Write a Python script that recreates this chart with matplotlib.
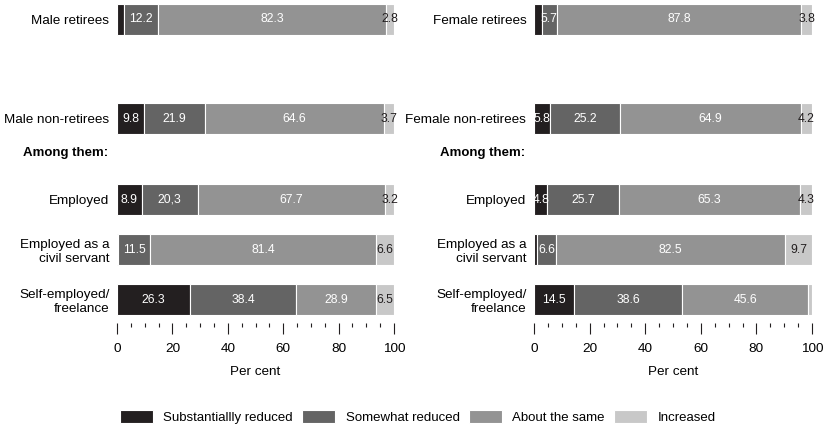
import matplotlib.pyplot as plt
from matplotlib.ticker import MultipleLocator

plt.rcParams['font.family'] = ['Liberation Sans', 'DejaVu Sans']

# rows, top to bottom
male_rows = ["Male retirees", "Male non-retirees", "Employed",
             "Employed as a\ncivil servant", "Self-employed/\nfreelance"]
female_rows = ["Female retirees", "Female non-retirees", "Employed",
               "Employed as a\ncivil servant", "Self-employed/\nfreelance"]

series = ["Substantiallly reduced", "Somewhat reduced", "About the same", "Increased"]

male_subst = [2.7, 9.8, 8.9, 0.5, 26.3]
male_somewhat = [12.2, 21.9, 20.3, 11.5, 38.4]
male_same = [82.3, 64.6, 67.7, 81.4, 28.9]
male_incr = [2.8, 3.7, 3.2, 6.6, 6.5]

female_subst = [2.7, 5.8, 4.8, 1.2, 14.5]
female_somewhat = [5.7, 25.2, 25.7, 6.6, 38.6]
female_same = [87.8, 64.9, 65.3, 82.5, 45.6]
female_incr = [3.8, 4.2, 4.3, 9.7, 1.3]

# the source prints one value with a decimal comma
male_somewhat_text = ["12.2", "21.9", "20,3", "11.5", "38.4"]

colors = ["#231f20", "#646464", "#939393", "#c8c8c8"]
text_colors = ["white", "white", "white", "#231f20"]

ypos = [5.61, 3.62, 2, 1, 0]

fig = plt.figure(figsize=(8.27, 4.30), dpi=100)
ax1 = fig.add_axes([0.1415, 0.2488, 0.3349, 0.7465])
ax2 = fig.add_axes([0.6457, 0.2488, 0.3362, 0.7465])


def draw(ax, rows, data, texts):
    left = [0.0] * len(rows)
    for k, vals in enumerate(data):
        ax.barh(ypos, vals, left=left, height=0.62, color=colors[k],
                edgecolor="white", linewidth=0.8, label=series[k])
        for i, v in enumerate(vals):
            if v >= 2.8:
                t = texts[k][i] if texts[k] else f"{v:.1f}"
                ax.text(left[i] + v / 2, ypos[i], t, ha="center", va="center",
                        color=text_colors[k], fontsize=8.7)
            left[i] += v
    ax.set_xlim(0, 100)
    ax.set_ylim(-0.47, 5.96)
    ax.set_yticks(ypos)
    ax.set_yticklabels(rows, fontsize=9.7, ha="right")
    ax.tick_params(axis="y", length=0, pad=5.5)
    ax.xaxis.set_major_locator(MultipleLocator(20))
    ax.xaxis.set_minor_locator(MultipleLocator(5))
    ax.tick_params(axis="x", which="major", length=8, width=0.8, pad=6.5,
                   labelsize=9.7, color="#231f20")
    ax.tick_params(axis="x", which="minor", length=3, width=0.8, color="#231f20")
    ax.set_xlabel("Per cent", fontsize=9.7, labelpad=8)
    for s in ax.spines.values():
        s.set_visible(False)
    ax.annotate("Among them:", xy=(0, 2.94), xycoords="data",
                xytext=(-67.7, 0), textcoords="offset points",
                ha="left", va="center", fontsize=9.5, fontweight="bold")


draw(ax1, male_rows, [male_subst, male_somewhat, male_same, male_incr],
     [None, male_somewhat_text, None, None])
draw(ax2, female_rows, [female_subst, female_somewhat, female_same, female_incr],
     [None, None, None, None])

handles, labels = ax1.get_legend_handles_labels()
fig.legend(handles, labels, loc="center", bbox_to_anchor=(0.505, 0.03), ncol=4,
           frameon=False, fontsize=9.5, handlelength=2.5, handleheight=1.1,
           handletextpad=0.8, columnspacing=0.7)

fig.savefig("out.png", dpi=100)
